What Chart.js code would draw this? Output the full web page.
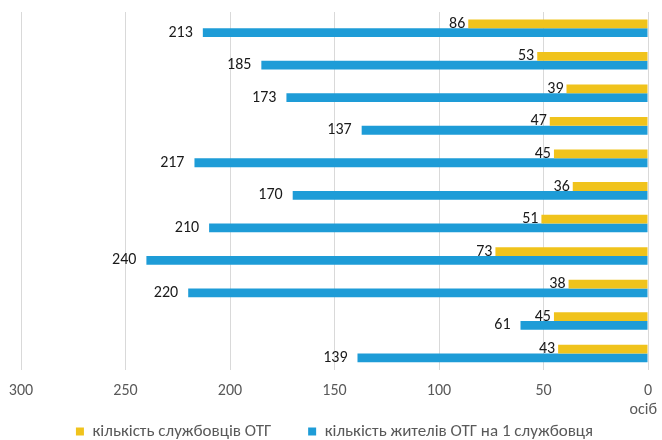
<!DOCTYPE html>
<html>
<head>
<meta charset="utf-8">
<script src="https://cdn.jsdelivr.net/npm/chart.js@4"></script>
<style>
  html, body { margin: 0; padding: 0; background: #fff; }
  #wrap { width: 662px; height: 440px; }
</style>
</head>
<body>
<div id="wrap"><canvas id="chart"></canvas></div>
<script>
const categories = ['1', '2', '3', '4', '5', '6', '7', '8', '9', '10', '11'];
const staffCount = [86, 53, 39, 47, 45, 36, 51, 73, 38, 45, 43];
const residentsPerStaff = [213, 185, 173, 137, 217, 170, 210, 240, 220, 61, 139];
const xTicks = [0, 50, 100, 150, 200, 250, 300];

const seriesNames = ['кількість службовців ОТГ', 'кількість жителів ОТГ на 1 службовця'];
const yellow = '#F0C31C';
const blue = '#1E9CD7';
const textColor = '#595959';
const fontFamily = 'Carlito, "Liberation Sans", Arial, sans-serif';

// Value labels at the far (left) end of each bar.
const dataLabelsPlugin = {
  id: 'dataLabels',
  afterDatasetsDraw: (chart) => {
    const {ctx} = chart;
    ctx.save();
    ctx.font = '16px ' + fontFamily;
    ctx.fillStyle = '#1a1a1a';
    ctx.textAlign = 'right';
    ctx.textBaseline = 'middle';
    chart.data.datasets.forEach((ds, di) => {
      const meta = chart.getDatasetMeta(di);
      const gap = di === 0 ? 3 : 10;
      meta.data.forEach((bar, i) => {
        ctx.fillText(String(ds.data[i]), bar.x - gap, bar.y);
      });
    });
    ctx.restore();
  }
};

// Unit label under the right end of the axis.
const unitPlugin = {
  id: 'unitLabel',
  afterDraw: (chart) => {
    const {ctx, chartArea} = chart;
    ctx.save();
    ctx.font = '16px ' + fontFamily;
    ctx.fillStyle = textColor;
    ctx.textAlign = 'right';
    ctx.textBaseline = 'middle';
    ctx.fillText('осіб', chartArea.right + 9, chartArea.bottom + 40);
    ctx.restore();
  }
};

new Chart(document.getElementById('chart'), {
  type: 'bar',
  data: {
    labels: categories,
    datasets: [
      {label: seriesNames[0], data: staffCount, backgroundColor: yellow},
      {label: seriesNames[1], data: residentsPerStaff, backgroundColor: blue}
    ]
  },
  options: {
    indexAxis: 'y',
    responsive: true,
    maintainAspectRatio: false,
    animation: false,
    datasets: {
      bar: {categoryPercentage: 0.54, barPercentage: 1.0}
    },
    layout: {
      padding: {top: 12, left: 21, right: 14, bottom: -10}
    },
    plugins: {
      legend: {
        position: 'bottom',
        labels: {
          boxWidth: 8,
          boxHeight: 8,
          padding: 10,
          color: textColor,
          font: {family: fontFamily, size: 17},
          // extra trailing space keeps the two entries apart
          generateLabels: (chart) => {
            const items = Chart.defaults.plugins.legend.labels.generateLabels(chart);
            items.forEach((it, i) => {
              if (i === 0) it.text = it.text + '       ';
            });
            return items;
          }
        }
      },
      tooltip: {enabled: false}
    },
    scales: {
      x: {
        reverse: true,
        min: 0,
        max: 300,
        afterBuildTicks: (scale) => {
          scale.ticks = xTicks.map(v => ({value: v}));
        },
        grid: {color: '#d9d9d9', drawTicks: false},
        border: {display: false},
        ticks: {
          padding: 12,
          color: textColor,
          font: {family: fontFamily, size: 16},
          maxRotation: 0
        }
      },
      y: {
        display: false,
        grid: {display: false}
      }
    }
  },
  plugins: [dataLabelsPlugin, unitPlugin]
});
</script>
</body>
</html>
